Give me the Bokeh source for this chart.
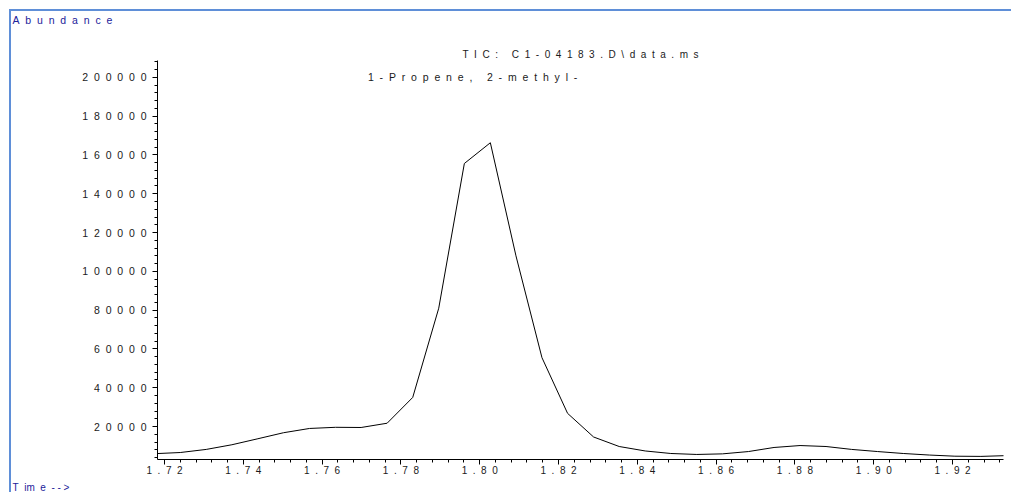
from bokeh.plotting import figure
from bokeh.models import Title, SingleIntervalTicker, CustomJSTickFormatter, Range1d
from bokeh.core.properties import value
from bokeh.embed import file_html
from bokeh.resources import INLINE

# ---- data ----
times = [1.7175, 1.7240, 1.7306, 1.7371, 1.7437, 1.7502, 1.7568, 1.7634, 1.7699,
         1.7765, 1.7830, 1.7896, 1.7961, 1.8027, 1.8092, 1.8158, 1.8223, 1.8289,
         1.8354, 1.8420, 1.8485, 1.8551, 1.8616, 1.8682, 1.8747, 1.8813, 1.8879,
         1.8944, 1.9010, 1.9075, 1.9141, 1.9206, 1.9272, 1.9337]
abundance = [6000, 6600, 8200, 10600, 13700, 16800, 19000, 19600, 19500,
             21700, 35000, 81000, 155600, 166300, 108000, 55500, 26800, 14600,
             9700, 7400, 6100, 5600, 5900, 7100, 9200, 10200, 9700,
             8200, 7100, 6100, 5300, 4700, 4600, 5000]
peak_time = [1.7982]
peak_abund = [200000]
peak_name = "1-Propene, 2-methyl-"
title_text = "TIC: C1-04183.D\\data.ms"
y_title = "Abundance"
x_title = "Time-->"

NB = "\u00a0"
GAP = NB * 2


def spaced(s):
    return GAP.join(NB if c == " " else c for c in s)


FONT = "Liberation Sans"
W, H = 1002, 483
X0, X1 = 1.71822, 1.93294
Y0, Y1 = 3000, 208700
L, R, T, B = 146, 992, 48, 448   # frame edges in canvas pixels

p = figure(width=W, height=H, output_backend="svg", toolbar_location=None,
           title_location=None,
           x_range=Range1d(X0, X1), y_range=Range1d(Y0, Y1),
           min_border_left=L, min_border_right=W - R, min_border_top=T,
           min_border_bottom=H - B)
p.styles = {"border-left": "2px solid #5f8fd8", "border-top": "2px solid #5f8fd8",
            "margin-left": "9px", "margin-top": "9px"}
p.outline_line_color = None
p.xgrid.visible = False
p.ygrid.visible = False
p.background_fill_color = "white"
p.border_fill_color = "white"

p.line(times, abundance, line_color="black", line_width=1)

# axes
p.xaxis.ticker = SingleIntervalTicker(interval=0.02, num_minor_ticks=5)
p.yaxis.ticker = SingleIntervalTicker(interval=20000, num_minor_ticks=5)
p.xaxis.formatter = CustomJSTickFormatter(
    code="return tick.toFixed(2).split('').join('\\u00a0\\u00a0')")
p.yaxis.formatter = CustomJSTickFormatter(
    code="return tick.toFixed(0).split('').join('\\u00a0\\u00a0')")
for ax in (p.xaxis, p.yaxis):
    ax.axis_line_color = "black"
    ax.major_tick_line_color = "black"
    ax.minor_tick_line_color = "black"
    ax.major_tick_in = 0
    ax.major_tick_out = 5
    ax.minor_tick_in = 0
    ax.minor_tick_out = 3
    ax.major_label_text_font = FONT
    ax.major_label_text_color = "#1a1a1a"
p.xaxis.major_label_text_font_size = "10px"
p.yaxis.major_label_text_font_size = "10.5px"
p.xaxis.major_label_standoff = 0
p.yaxis.major_label_standoff = 6

# titles (outside the frame); stacked outward from the frame
p.add_layout(Title(text=spaced(title_text), align="center", offset=-3, standoff=2,
                   text_font=FONT, text_font_size="10px", text_font_style="normal",
                   text_color="#1a1a1a"), "above")
p.add_layout(Title(text=NB, align="left", standoff=17, text_font=FONT,
                   text_font_size="1px", text_font_style="normal",
                   text_color="white"), "above")
p.add_layout(Title(text=spaced(y_title), align="left", offset=-145, standoff=0,
                   text_font=FONT, text_font_size="10.5px", text_font_style="normal",
                   text_color="#22229a"), "above")
time_txt = "T" + GAP + "im" + GAP + "e" + GAP + "-" + NB + "-" + NB + ">"
p.add_layout(Title(text=time_txt, align="left", offset=-145, standoff=2,
                   text_font=FONT, text_font_size="10px", text_font_style="normal",
                   text_color="#22229a"), "below")

# peak label
p.text(x=peak_time, y=peak_abund, text=[spaced(peak_name)],
       text_font=value(FONT), text_font_size="10.5px", text_color="#1a1a1a",
       text_align="center", text_baseline="middle")

open("out.html", "w").write(file_html(p, INLINE))
